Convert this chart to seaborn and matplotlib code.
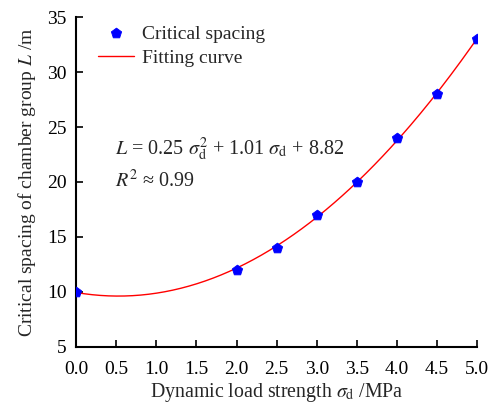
import numpy as np
import pandas as pd
import matplotlib
matplotlib.use("Agg")
import matplotlib.pyplot as plt
import seaborn as sns

# Measured critical spacing vs dynamic load strength
load_strength = [0.0, 2.0, 2.5, 3.0, 3.5, 4.0, 4.5, 5.0]
critical_spacing = [10, 12, 14, 17, 20, 24, 28, 33]
x_ticks = [0.0, 0.5, 1.0, 1.5, 2.0, 2.5, 3.0, 3.5, 4.0, 4.5, 5.0]
y_ticks = [5, 10, 15, 20, 25, 30, 35]

sns.set_theme(style="ticks")
plt.rcParams["font.family"] = ["Liberation Serif", "DejaVu Serif"]
plt.rcParams["mathtext.fontset"] = "stix"

df = pd.DataFrame({"sigma": load_strength, "L": critical_spacing})

# Quadratic fit of the measurements
coef = np.polyfit(df["sigma"], df["L"], 2)
xs = np.linspace(0, 5, 200)
fit = pd.DataFrame({"sigma": xs, "L": np.polyval(coef, xs)})

fig = plt.figure(figsize=(4.94, 4.08), dpi=100)
ax = fig.add_axes([0.154, 0.150, 0.812, 0.808])

sns.lineplot(data=fit, x="sigma", y="L", color="red", lw=1.0, ax=ax,
             label="Fitting curve", zorder=2)
sns.scatterplot(data=df, x="sigma", y="L", marker="p", s=60, color="blue",
                edgecolor="blue", ax=ax, label="Critical spacing", zorder=3)

ax.set_xlim(0, 5)
ax.set_ylim(5, 35)
ax.set_xticks(x_ticks)
ax.set_xticklabels([f"{v:.1f}" for v in x_ticks])
ax.set_yticks(y_ticks)
ax.tick_params(direction="in", length=5, width=1.2, labelsize=14,
               colors="black", pad=7)
ax.tick_params(axis="x", pad=10)
for s in ["left", "bottom"]:
    ax.spines[s].set_linewidth(1.5)
    ax.spines[s].set_color("black")
sns.despine(ax=ax)

ax.set_xlabel(r"Dynamic load strength $\sigma_{\mathrm{d}}$ /MPa", fontsize=14.3,
              labelpad=2.5)
ax.set_ylabel(r"Critical spacing of chamber group $L$ /m", fontsize=14,
              labelpad=6)

handles, labels = ax.get_legend_handles_labels()
order = [labels.index("Critical spacing"), labels.index("Fitting curve")]
ax.legend([handles[i] for i in order], [labels[i] for i in order],
          loc="upper left", frameon=False, fontsize=14,
          bbox_to_anchor=(0.035, 1.0), borderaxespad=0, handlelength=1.85,
          handletextpad=0.4, labelspacing=0.35)

ax.text(0.49, 22.45,
        r"$L$ = 0.25 $\sigma_{\mathrm{d}}^{2}$ + 1.01 $\sigma_{\mathrm{d}}$ + 8.82",
        fontsize=14.5, va="baseline")
ax.text(0.49, 19.55, r"$R^2$ ≈ 0.99", fontsize=14.5, va="baseline")

fig.savefig("out.png", dpi=100)
